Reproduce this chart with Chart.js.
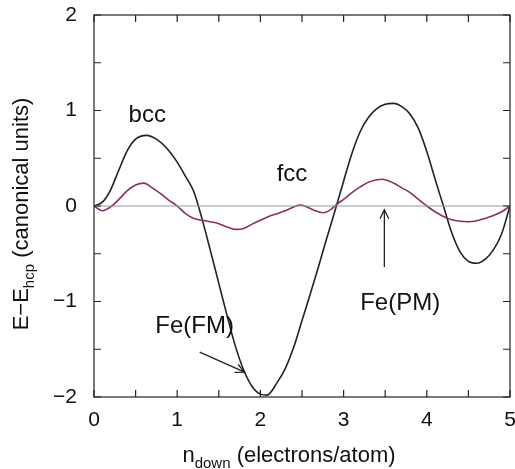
<!DOCTYPE html>
<html>
<head>
<meta charset="utf-8">
<script src="https://cdn.jsdelivr.net/npm/chart.js@4.4.0/dist/chart.umd.min.js"></script>
<style>
  html, body { margin: 0; padding: 0; background: #fff; }
  #wrap { width: 515px; height: 469px; }
</style>
</head>
<body>
<div id="wrap"><canvas id="myChart" width="515" height="469"></canvas></div>
<script>
// data
const bccX = [0, 0.1, 0.2, 0.3, 0.4, 0.5, 0.63, 0.75, 0.88, 1.0, 1.1, 1.2, 1.3, 1.4, 1.5, 1.6, 1.7, 1.8, 1.9, 2.0, 2.08,
              2.2, 2.3, 2.4, 2.5, 2.6, 2.7, 2.8, 2.9, 3.0, 3.1, 3.2, 3.3, 3.4, 3.5, 3.6, 3.7, 3.8, 3.9, 4.0,
              4.1, 4.2, 4.3, 4.4, 4.5, 4.6, 4.7, 4.8, 4.9, 5.0];
const bccY = [0, 0.04, 0.17, 0.38, 0.58, 0.70, 0.74, 0.70, 0.60, 0.46, 0.31, 0.15, -0.14, -0.47, -0.81, -1.15, -1.47, -1.72, -1.89, -1.97, -1.98,
              -1.85, -1.70, -1.48, -1.20, -0.92, -0.63, -0.33, -0.04, 0.26, 0.55, 0.78, 0.93, 1.02, 1.065, 1.075, 1.04, 0.96, 0.81, 0.57,
              0.28, 0, -0.28, -0.48, -0.58, -0.60, -0.56, -0.46, -0.29, 0];

const fccX = [0, 0.1, 0.2, 0.3, 0.4, 0.5, 0.6, 0.7, 0.8, 0.9, 1.0, 1.1, 1.2, 1.3, 1.4, 1.5, 1.6, 1.7, 1.8, 1.9, 2.0,
              2.1, 2.2, 2.3, 2.4, 2.48, 2.56, 2.66, 2.76, 2.84, 2.92, 3.0, 3.1, 3.2, 3.3, 3.46, 3.6, 3.7, 3.8, 3.9, 4.0,
              4.1, 4.2, 4.3, 4.4, 4.5, 4.6, 4.7, 4.8, 4.9, 5.0];
const fccY = [0, -0.05, -0.01, 0.07, 0.16, 0.22, 0.24, 0.19, 0.13, 0.06, 0, -0.08, -0.13, -0.15, -0.165, -0.185, -0.22, -0.245, -0.235, -0.19, -0.15,
              -0.11, -0.08, -0.05, -0.01, 0.01, -0.01, -0.05, -0.07, -0.04, 0.02, 0.07, 0.14, 0.2, 0.25, 0.28, 0.24, 0.19, 0.14, 0.07, 0,
              -0.06, -0.11, -0.145, -0.16, -0.165, -0.155, -0.13, -0.1, -0.06, 0];

const xTicks = [0, 1, 2, 3, 4, 5];
const yTicks = [-2, -1, 0, 1, 2];

const FONT = '"Liberation Sans", Arial, Helvetica, sans-serif';

function toPoints(xs, ys) {
    return xs.map((x, i) => ({ x: x, y: ys[i] }));
}

// text labels and arrows (in data units)
const notes = [
    { text: 'bcc', x: 0.64, y: 0.95 },
    { text: 'fcc', x: 2.38, y: 0.33 },
    { text: 'Fe(FM)', x: 1.21, y: -1.26 },
    { text: 'Fe(PM)', x: 3.68, y: -1.02 },
];
const arrows = [
    { x0: 1.27, y0: -1.53, x1: 1.81, y1: -1.74 },
    { x0: 3.49, y0: -0.64, x1: 3.49, y1: -0.04 },
];

// no extra room for tick labels overflowing the ends
function noPad(s) {
    s.paddingLeft = 0; s.paddingRight = 0; s.paddingTop = 0; s.paddingBottom = 0;
}

// frame, inward ticks, annotations, axis titles
const decor = {
    id: 'decor',
    afterDraw(chart) {
        const ctx = chart.ctx;
        const a = chart.chartArea;
        const xs = chart.scales.x, ys = chart.scales.y;
        ctx.save();
        ctx.strokeStyle = '#222';
        ctx.lineWidth = 1.2;
        ctx.strokeRect(a.left, a.top, a.right - a.left, a.bottom - a.top);

        const tl = 7;
        ctx.beginPath();
        for (let v = 0; v <= 5.001; v += 0.5) {
            const px = xs.getPixelForValue(v);
            ctx.moveTo(px, a.bottom); ctx.lineTo(px, a.bottom - tl);
            ctx.moveTo(px, a.top); ctx.lineTo(px, a.top + tl);
        }
        for (let v = -2; v <= 2.001; v += 0.5) {
            const py = ys.getPixelForValue(v);
            ctx.moveTo(a.left, py); ctx.lineTo(a.left + tl, py);
            ctx.moveTo(a.right, py); ctx.lineTo(a.right - tl, py);
        }
        ctx.stroke();

        // notes
        ctx.fillStyle = '#111';
        ctx.font = '24px ' + FONT;
        ctx.textAlign = 'center';
        ctx.textBaseline = 'middle';
        notes.forEach(n => {
            ctx.fillText(n.text, xs.getPixelForValue(n.x), ys.getPixelForValue(n.y));
        });

        // arrows
        ctx.lineWidth = 1.3;
        arrows.forEach(r => {
            const x0 = xs.getPixelForValue(r.x0), y0 = ys.getPixelForValue(r.y0);
            const x1 = xs.getPixelForValue(r.x1), y1 = ys.getPixelForValue(r.y1);
            const ang = Math.atan2(y1 - y0, x1 - x0);
            ctx.beginPath();
            ctx.moveTo(x0, y0); ctx.lineTo(x1, y1);
            ctx.moveTo(x1 - 10 * Math.cos(ang - 0.45), y1 - 10 * Math.sin(ang - 0.45));
            ctx.lineTo(x1, y1);
            ctx.lineTo(x1 - 10 * Math.cos(ang + 0.45), y1 - 10 * Math.sin(ang + 0.45));
            ctx.stroke();
        });

        // x axis title: n_down (electrons/atom)
        ctx.textAlign = 'left';
        ctx.textBaseline = 'alphabetic';
        const big = '22px ' + FONT, small = '15px ' + FONT;
        let parts = [['n', big, 0], ['down', small, 6], [' (electrons/atom)', big, 0]];
        let w = 0;
        parts.forEach(p => { ctx.font = p[1]; w += ctx.measureText(p[0]).width; });
        let cx = 289 - w / 2;
        const by = 462;
        parts.forEach(p => {
            ctx.font = p[1];
            ctx.fillText(p[0], cx, by + p[2]);
            cx += ctx.measureText(p[0]).width;
        });

        // y axis title: E−E_hcp (canonical units)
        ctx.translate(28, 214);
        ctx.rotate(-Math.PI / 2);
        parts = [['E\u2212E', big, 0], ['hcp', small, 6], [' (canonical units)', big, 0]];
        w = 0;
        parts.forEach(p => { ctx.font = p[1]; w += ctx.measureText(p[0]).width; });
        cx = -w / 2;
        parts.forEach(p => {
            ctx.font = p[1];
            ctx.fillText(p[0], cx, p[2]);
            cx += ctx.measureText(p[0]).width;
        });
        ctx.restore();
    }
};

const config = {
    type: 'scatter',
    data: {
        datasets: [
            {
                label: 'zero',
                data: [{ x: 0, y: 0 }, { x: 5, y: 0 }],
                showLine: true,
                borderColor: '#9a9a9a',
                borderWidth: 1.2,
                pointRadius: 0,
            },
            {
                label: 'fcc',
                data: toPoints(fccX, fccY),
                showLine: true,
                borderColor: '#8a2f62',
                borderWidth: 1.6,
                pointRadius: 0,
                cubicInterpolationMode: 'monotone',
            },
            {
                label: 'bcc',
                data: toPoints(bccX, bccY),
                showLine: true,
                borderColor: '#222',
                borderWidth: 1.6,
                pointRadius: 0,
                cubicInterpolationMode: 'monotone',
            },
        ]
    },
    options: {
        responsive: false,
        animation: false,
        layout: { padding: { top: 15, right: 5, left: 0, bottom: 0 } },
        plugins: { legend: { display: false }, tooltip: { enabled: false } },
        scales: {
            x: {
                type: 'linear', min: 0, max: 5,
                afterBuildTicks(s) { s.ticks = xTicks.map(v => ({ value: v })); },
                afterFit(s) { s.height = 72; noPad(s); },
                grid: { display: false, drawTicks: false },
                border: { display: false },
                ticks: { color: '#111', font: { size: 21, family: FONT }, padding: 11, maxRotation: 0 },
            },
            y: {
                type: 'linear', min: -2, max: 2,
                afterBuildTicks(s) { s.ticks = yTicks.map(v => ({ value: v })); },
                afterFit(s) { s.width = 94; noPad(s); },
                grid: { display: false, drawTicks: false },
                border: { display: false },
                ticks: {
                    color: '#111', font: { size: 21, family: FONT }, padding: 17,
                    callback: v => String(v).replace('-', '\u2212'),
                },
            },
        },
    },
    plugins: [decor],
};

const myChart = new Chart(document.getElementById('myChart'), config);
</script>
</body>
</html>
